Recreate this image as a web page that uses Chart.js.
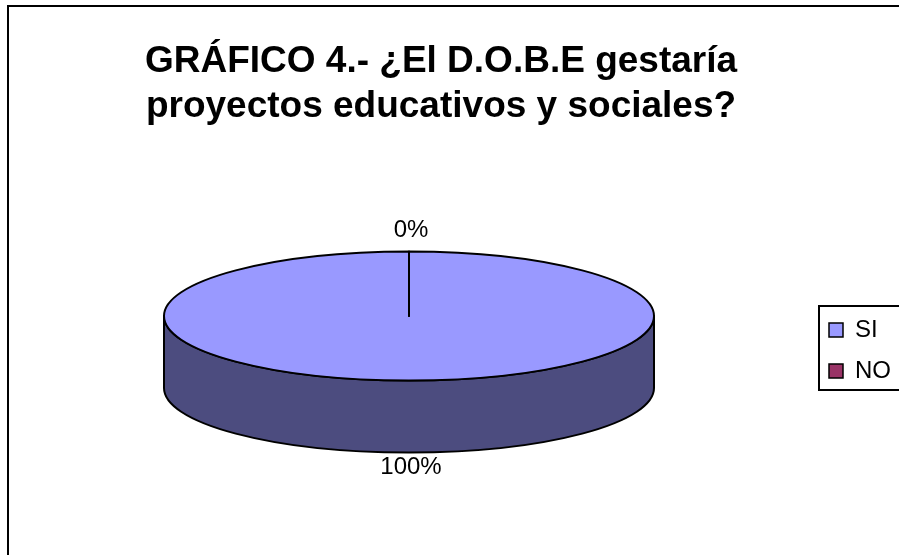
<!DOCTYPE html>
<html><head><meta charset="utf-8">
<script src="https://cdn.jsdelivr.net/npm/chart.js@4/dist/chart.umd.min.js"></script>
<style>html,body{margin:0;padding:0;background:#fff}#wrap{width:899px;height:555px;position:relative}</style>
</head><body><div id="wrap"><canvas id="c"></canvas></div>
<script>
// ---- data ----
const categories = ['SI', 'NO'];
const values = [100, 0];
const titleLines = ['GRÁFICO 4.- ¿El D.O.B.E gestaría', 'proyectos educativos y sociales?'];
const topColors = ['#9999FF', '#993366'];
const sideColors = ['#4C4C7F', '#4D1A33'];

// ---- 3D view settings (style) ----
const VIEW = { cx: 409, cy: 316, rx: 245, ry: 64.5, depth: 72 };
const FONT = 'Liberation Sans, Arial, sans-serif';

const total = values.reduce((a, b) => a + b, 0);

const pie3d = {
  id: 'pie3d',
  beforeDatasetsDraw(chart) {
    const ctx = chart.ctx;
    const arcs = chart.getDatasetMeta(0).data;
    const { cx, cy, rx, ry, depth } = VIEW;
    ctx.save();
    arcs.forEach((arc, i) => {
      const a0 = arc.startAngle, a1 = arc.endAngle;
      for (let k = -1; k <= 1; k++) {
        const lo = Math.max(a0, 2 * Math.PI * k), hi = Math.min(a1, 2 * Math.PI * k + Math.PI);
        if (hi > lo) {
          ctx.beginPath();
          ctx.ellipse(cx, cy, rx, ry, 0, lo, hi, false);
          ctx.ellipse(cx, cy + depth, rx, ry, 0, hi, lo, true);
          ctx.closePath();
          ctx.fillStyle = sideColors[i];
          ctx.fill();
          ctx.lineWidth = 2;
          ctx.strokeStyle = '#000';
          ctx.lineJoin = 'round';
          ctx.stroke();
        }
      }
    });
    ctx.restore();
    const a = arcs[0];
    const r = a.outerRadius;
    ctx.save();
    ctx.translate(cx, cy);
    ctx.scale(rx / r, ry / r);
    ctx.translate(-a.x, -a.y);
  },
  afterDatasetsDraw(chart) {
    const ctx = chart.ctx;
    ctx.restore();
    const arcs = chart.getDatasetMeta(0).data;
    const { cx, cy, rx, ry, depth } = VIEW;
    ctx.save();
    ctx.strokeStyle = '#000';
    ctx.lineWidth = 2;
    ctx.lineJoin = 'round';
    arcs.forEach((arc) => {
      const a0 = arc.startAngle, a1 = arc.endAngle;
      ctx.beginPath();
      ctx.moveTo(cx, cy);
      ctx.lineTo(cx + rx * Math.cos(a0), cy + ry * Math.sin(a0));
      if (a1 > a0) ctx.ellipse(cx, cy, rx, ry, 0, a0, a1, false);
      ctx.closePath();
      ctx.stroke();
    });
    ctx.fillStyle = '#000';
    ctx.font = '24px ' + FONT;
    ctx.textAlign = 'center';
    ctx.textBaseline = 'middle';
    arcs.forEach((arc, i) => {
      const mid = (arc.startAngle + arc.endAngle) / 2;
      const c = Math.cos(mid), s = Math.sin(mid);
      let px = cx + rx * c, py = cy + ry * s;
      if (s > 0) py += depth;
      const dist = s > 0 ? 15 : 21;
      const pct = Math.round(values[i] / total * 100) + '%';
      ctx.fillText(pct, px + 2 + c * dist, py + s * dist);
    });
    ctx.restore();
  },
  afterDraw(chart) {
    const ctx = chart.ctx;
    ctx.save();
    ctx.strokeStyle = '#000';
    ctx.lineWidth = 2;
    ctx.strokeRect(8, 6, 905, 560);
    const hb = chart.legend.legendHitBoxes;
    if (hb && hb.length) {
      const top = hb[0].top - 12;
      const bottom = hb[hb.length - 1].top + hb[hb.length - 1].height + 7;
      const left = hb[0].left - 10;
      ctx.strokeRect(left, top, 905 - left, bottom - top);
    }
    ctx.restore();
  }
};

new Chart(document.getElementById('c'), {
  type: 'pie',
  data: {
    labels: categories,
    datasets: [{ data: values, backgroundColor: topColors, borderWidth: 0 }]
  },
  options: {
    responsive: true,
    maintainAspectRatio: false,
    animation: false,
    events: [],
    layout: { padding: { left: -19, right: -2, top: 0, bottom: 0 } },
    plugins: {
      tooltip: { enabled: false },
      title: {
        display: true,
        text: titleLines,
        color: '#000',
        font: { family: FONT, size: 37, weight: 'bold', lineHeight: 45 / 37 },
        padding: { top: 39.5, bottom: 16.5 }
      },
      legend: {
        position: 'right',
        fullSize: false,
        labels: {
          color: '#000',
          font: { family: FONT, size: 24 },
          boxWidth: 14,
          boxHeight: 14,
          padding: 17,
          generateLabels(chart) {
            return categories.map((c, i) => ({
              text: c, fillStyle: topColors[i], strokeStyle: '#000', lineWidth: 1.5,
              hidden: false, index: i, fontColor: '#000'
            }));
          }
        }
      }
    }
  },
  plugins: [pie3d]
});
</script></body></html>
